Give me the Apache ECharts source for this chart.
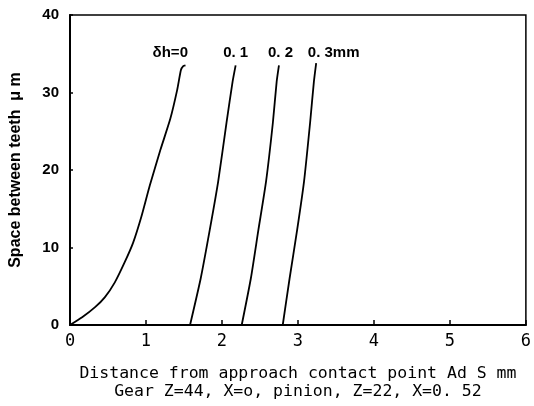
<!DOCTYPE html>
<html>
<head>
<meta charset="utf-8">
<script src="https://cdn.jsdelivr.net/npm/echarts@6/dist/echarts.min.js"></script>
<style>
  html, body { margin: 0; padding: 0; background: #fff; }
  #chart { width: 534px; height: 406px; }
</style>
</head>
<body>
<div id="chart"></div>
<script>
// curves, [distance mm, space um]
const curveH0 = [[0, 0], [0.16, 1.0], [0.33, 2.3], [0.46, 3.6], [0.59, 5.5], [0.72, 8.1], [0.83, 10.6],
  [0.94, 14.0], [1.05, 18.0], [1.19, 22.6], [1.32, 26.6], [1.41, 30.3], [1.46, 32.9], [1.49, 33.4], [1.52, 33.5]]
const curveH1 = [[1.58, 0], [1.72, 6.0], [1.84, 12.3], [1.95, 18.5], [2.06, 26.1], [2.14, 31.4], [2.18, 33.5]]
const curveH2 = [[2.26, 0], [2.38, 6.0], [2.48, 12.3], [2.58, 18.5], [2.67, 26.1], [2.72, 31.4], [2.75, 33.5]]
const curveH3 = [[2.80, 0], [2.89, 6.0], [2.99, 12.3], [3.08, 18.5], [3.16, 26.1], [3.21, 31.4], [3.24, 33.8]]

const curveNames = ['δh=0', '0. 1', '0. 2', '0. 3mm']
const labelX = [1.32, 2.18, 2.77, 3.47]
const labelY = [35.1, 35.1, 35.1, 35.1]

const xTicks = [0, 1, 2, 3, 4, 5, 6]
const yTicks = [0, 10, 20, 30, 40]

const xName = 'Distance from approach contact point Ad S mm'
const caption = 'Gear Z=44, X=o, pinion, Z=22, X=0. 52'
const yName = 'Space between teeth  μ m'

const lineSeries = (name, data) => ({
  name: name,
  type: 'line',
  data: data,
  smooth: 0.2,
  showSymbol: false,
  lineStyle: { color: '#000', width: 1.8 },
  silent: true
})

let chart = echarts.init(document.getElementById('chart'))
chart.setOption({
  animation: false,
  backgroundColor: '#fff',
  grid: {
    left: 68,
    right: 4,
    top: 15,
    bottom: 80,
    show: true,
    borderColor: '#000',
    borderWidth: 1.5
  },
  xAxis: {
    type: 'value',
    min: xTicks[0],
    max: xTicks[xTicks.length - 1],
    interval: 1,
    name: xName + '\n' + caption,
    nameLocation: 'middle',
    nameGap: 40,
    nameTextStyle: {
      fontFamily: 'DejaVu Sans Mono',
      fontSize: 16.5,
      color: '#000',
      lineHeight: 18,
      verticalAlign: 'top'
    },
    axisLine: { lineStyle: { color: '#000', width: 2 } },
    axisTick: { inside: true, length: 5, lineStyle: { color: '#000', width: 1.5 } },
    axisLabel: { fontFamily: 'DejaVu Sans Mono', fontSize: 17, color: '#000', margin: 8 },
    splitLine: { show: false }
  },
  yAxis: {
    type: 'value',
    min: yTicks[0],
    max: yTicks[yTicks.length - 1],
    interval: 10,
    name: yName,
    nameLocation: 'middle',
    nameGap: 46,
    nameTextStyle: {
      fontFamily: 'Liberation Sans',
      fontWeight: 'bold',
      fontSize: 16,
      color: '#000'
    },
    axisLine: { lineStyle: { color: '#000', width: 2 } },
    axisTick: { inside: true, length: 3, lineStyle: { color: '#000', width: 1.5 } },
    axisLabel: { fontFamily: 'Liberation Sans', fontWeight: 'bold', fontSize: 15, color: '#000', margin: 11 },
    splitLine: { show: false }
  },
  series: [
    lineSeries(curveNames[0], curveH0),
    lineSeries(curveNames[1], curveH1),
    lineSeries(curveNames[2], curveH2),
    lineSeries(curveNames[3], curveH3),
    {
      type: 'scatter',
      silent: true,
      symbolSize: 1,
      itemStyle: { color: '#000', opacity: 0 },
      data: curveNames.map((n, i) => ({ name: n, value: [labelX[i], labelY[i]] })),
      label: {
        show: true,
        position: 'inside',
        formatter: p => p.name,
        fontFamily: 'Liberation Sans',
        fontWeight: 'bold',
        fontSize: 15,
        color: '#000',
        opacity: 1,
        textBorderWidth: 0
      }
    }
  ]
})
</script>
</body>
</html>
